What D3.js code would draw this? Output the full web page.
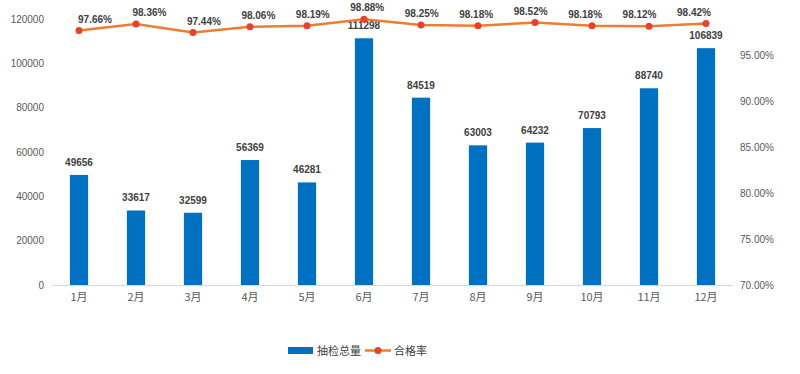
<!DOCTYPE html>
<html>
<head>
<meta charset="utf-8">
<script src="https://cdn.jsdelivr.net/npm/d3@7"></script>
<style>
  body { margin: 0; background: #fff; }
  text { font-family: "Liberation Sans", Arial, "Noto Sans CJK SC", sans-serif; }
</style>
</head>
<body>
<div id="chart"></div>
<script>
var months = ["1月", "2月", "3月", "4月", "5月", "6月", "7月", "8月", "9月", "10月", "11月", "12月"];
var totals = [49656, 33617, 32599, 56369, 46281, 111298, 84519, 63003, 64232, 70793, 88740, 106839];
var rates = [97.66, 98.36, 97.44, 98.06, 98.19, 98.88, 98.25, 98.18, 98.52, 98.18, 98.12, 98.42];
var leftTicks = [0, 20000, 40000, 60000, 80000, 100000, 120000];
var rightTicks = [70, 75, 80, 85, 90, 95];

var width = 800, height = 374;
var svg = d3.select("#chart").append("svg")
    .attr("width", width)
    .attr("height", height);

var x = d3.scaleBand()
    .domain(months)
    .range([50.5, 734.5])
    .paddingInner(0.68)
    .paddingOuter(0.34);

var y = d3.scaleLinear()
    .domain([0, 120000])
    .range([285, 19]);

var y2 = d3.scaleLinear()
    .domain([70, 100])
    .range([285, 9]);

// left axis
var leftAxis = svg.append("g")
    .attr("transform", "translate(44,0)")
    .call(d3.axisLeft(y).tickValues(leftTicks).tickSize(0).tickPadding(0).tickFormat(d3.format("d")));
leftAxis.select(".domain").remove();
leftAxis.selectAll("text")
    .style("font-size", "10px")
    .attr("fill", "#595959");

// right axis
var rightAxis = svg.append("g")
    .attr("transform", "translate(740,0)")
    .call(d3.axisRight(y2).tickValues(rightTicks).tickSize(0).tickPadding(0)
        .tickFormat(function (d) { return d.toFixed(2) + "%"; }));
rightAxis.select(".domain").remove();
rightAxis.selectAll("text")
    .style("font-size", "10px")
    .attr("fill", "#595959");

// bars
svg.append("g")
    .selectAll("rect")
    .data(totals)
    .join("rect")
    .attr("x", function (d, i) { return x(months[i]); })
    .attr("y", function (d) { return y(d); })
    .attr("width", x.bandwidth())
    .attr("height", function (d) { return y(0) - y(d); })
    .attr("fill", "#0070C0");

// baseline
svg.append("line")
    .attr("x1", 52).attr("x2", 733)
    .attr("y1", 285.5).attr("y2", 285.5)
    .attr("stroke", "#d9d9d9");

// bottom axis labels
var bottomAxis = svg.append("g")
    .attr("transform", "translate(0,293)")
    .call(d3.axisBottom(x).tickSize(0).tickPadding(0));
bottomAxis.select(".domain").remove();
bottomAxis.selectAll("text")
    .style("font-size", "11px")
    .style("font-family", "'Noto Sans CJK SC', sans-serif")
    .attr("fill", "#595959");

// bar labels
svg.append("g")
    .selectAll("text")
    .data(totals)
    .join("text")
    .attr("x", function (d, i) { return x(months[i]) + x.bandwidth() / 2; })
    .attr("y", function (d) { return y(d) - 9; })
    .attr("text-anchor", "middle")
    .style("font-size", "10px")
    .style("font-weight", "bold")
    .attr("fill", "#404040")
    .text(function (d) { return d; });

// rate line
var cx = function (d, i) { return x(months[i]) + x.bandwidth() / 2; };
var line = d3.line()
    .x(cx)
    .y(function (d) { return y2(d); });

svg.append("path")
    .datum(rates)
    .attr("d", line)
    .attr("fill", "none")
    .attr("stroke", "#ED7D31")
    .attr("stroke-width", 2.5);

svg.append("g")
    .selectAll("circle")
    .data(rates)
    .join("circle")
    .attr("cx", cx)
    .attr("cy", function (d) { return y2(d); })
    .attr("r", 3.5)
    .attr("fill", "#E8412C");

// rate labels sit on a slightly narrower spread than the points
var labelX = d3.scalePoint().domain(months).range([95, 694]);
svg.append("g")
    .selectAll("text")
    .data(rates)
    .join("text")
    .attr("x", function (d, i) { return labelX(months[i]); })
    .attr("y", function (d) { return y2(d) - 8; })
    .attr("text-anchor", "middle")
    .style("font-size", "10px")
    .style("font-weight", "bold")
    .attr("fill", "#404040")
    .text(function (d) { return d.toFixed(2) + "%"; });

// legend
var legend = svg.append("g");
legend.append("rect")
    .attr("x", 288).attr("y", 347)
    .attr("width", 25).attr("height", 7)
    .attr("fill", "#0070C0");
legend.append("text")
    .attr("x", 317).attr("y", 355)
    .style("font-size", "11px")
    .style("font-family", "'Noto Sans CJK SC', sans-serif")
    .attr("fill", "#404040")
    .text("抽检总量");
legend.append("line")
    .attr("x1", 365).attr("x2", 391)
    .attr("y1", 350.5).attr("y2", 350.5)
    .attr("stroke", "#ED7D31")
    .attr("stroke-width", 2.5);
legend.append("circle")
    .attr("cx", 378).attr("cy", 350.5)
    .attr("r", 3.5)
    .attr("fill", "#E8412C");
legend.append("text")
    .attr("x", 394).attr("y", 355)
    .style("font-size", "11px")
    .style("font-family", "'Noto Sans CJK SC', sans-serif")
    .attr("fill", "#404040")
    .text("合格率");
</script>
</body>
</html>
